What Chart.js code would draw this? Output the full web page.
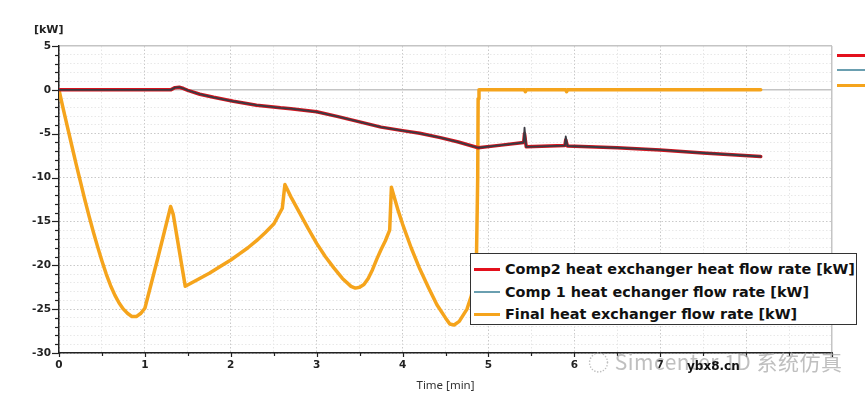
<!DOCTYPE html>
<html>
<head>
<meta charset="utf-8">
<script src="https://cdn.jsdelivr.net/npm/chart.js@4.4.1/dist/chart.umd.min.js"></script>
<style>
  body { margin: 0; background: #fff; }
  #wrap { position: relative; width: 865px; height: 396px; overflow: hidden; }
  #unit { position: absolute; left: 34px; top: 23px; font: bold 11px "DejaVu Sans"; color: #222; }
  #legend { position: absolute; left: 470px; top: 253px; width: 387px; height: 72px; box-sizing: border-box;
            border: 1.5px solid #333; background: #fff; padding-top: 4px; }
  .row { height: 22.5px; display: flex; align-items: center; font: bold 14.4px "DejaVu Sans"; color: #111; white-space: nowrap; }
  .sw { width: 26px; margin: 0 5px 0 3px; }
  .stub { position: absolute; left: 837px; width: 28px; }
  #wm { position: absolute; left: 588px; top: 346px; font: 21px "Noto Sans CJK SC"; color: rgba(170,170,170,0.75); letter-spacing: 0.5px; }
  #site { position: absolute; left: 687px; top: 359px; font: bold 12px "DejaVu Sans"; color: #111; }
</style>
</head>
<body>
<div id="wrap">
  <canvas id="chart" width="865" height="396"></canvas>
  <div id="unit">[kW]</div>
  <div class="stub" style="top:54px;height:3px;background:#e3101c"></div>
  <div class="stub" style="top:69px;height:2px;background:#6a9fb0"></div>
  <div class="stub" style="top:84px;height:3px;background:#f5a41c"></div>
  <div id="legend"></div>
  <div id="wm">◌ Simcenter 1D 系统仿真</div>
  <div id="site">ybx8.cn</div>
</div>
<script>
// Comp2 heat exchanger heat flow rate (red)
const comp2Time = [0, 1.3, 1.35, 1.4, 1.45, 1.5, 1.64, 1.8, 2.03, 2.3, 2.58, 2.7, 3.0, 3.25, 3.5, 3.75, 4.0, 4.2, 4.44, 4.65, 4.88, 5.15, 5.41, 5.42, 5.44, 5.89, 5.9, 5.92, 6.5, 7.0, 7.5, 8.17];
const comp2Vals = [0, 0, 0.25, 0.3, 0.15, -0.05, -0.5, -0.85, -1.3, -1.75, -2.05, -2.15, -2.5, -3.05, -3.65, -4.25, -4.65, -4.95, -5.45, -5.95, -6.6, -6.3, -6.0, -5.0, -6.5, -6.35, -5.7, -6.4, -6.6, -6.85, -7.2, -7.6];

// Comp 1 heat exchanger flow rate (teal, drawn on top)
const comp1Time = [0, 1.3, 1.35, 1.4, 1.45, 1.5, 1.64, 1.8, 2.03, 2.3, 2.58, 2.7, 3.0, 3.25, 3.5, 3.75, 4.0, 4.2, 4.44, 4.65, 4.88, 5.15, 5.41, 5.42, 5.44, 5.89, 5.9, 5.92, 6.5, 7.0, 7.5, 8.17];
const comp1Vals = [0, 0, 0.25, 0.3, 0.15, -0.05, -0.5, -0.85, -1.3, -1.75, -2.05, -2.15, -2.5, -3.05, -3.65, -4.25, -4.65, -4.95, -5.45, -5.95, -6.6, -6.3, -6.0, -4.3, -6.5, -6.35, -5.3, -6.4, -6.6, -6.85, -7.2, -7.6];

// Final heat exchanger flow rate (orange)
const finalTime = [0, 0.05, 0.1, 0.15, 0.2, 0.25, 0.3, 0.35, 0.4, 0.45, 0.5, 0.55, 0.6, 0.65, 0.7, 0.75, 0.8, 0.85, 0.9, 0.95, 1.0, 1.15, 1.3, 1.33, 1.47,
  1.6, 1.75, 1.9, 2.0, 2.1, 2.2, 2.3, 2.4, 2.5, 2.6, 2.63,
  2.7, 2.8, 2.9, 3.0, 3.1, 3.2, 3.3, 3.4, 3.45, 3.5, 3.55, 3.6, 3.65, 3.7, 3.75, 3.8, 3.85, 3.87,
  3.95, 4.0, 4.1, 4.2, 4.3, 4.4, 4.5, 4.55, 4.6, 4.66, 4.75, 4.8, 4.84, 4.86, 4.875, 4.88, 4.89,
  5.42, 5.43, 5.44, 5.9, 5.91, 5.92, 8.17];
const finalVals = [0, -2.2, -4.3, -6.4, -8.5, -10.5, -12.5, -14.4, -16.2, -17.9, -19.5, -21.0, -22.3, -23.4, -24.3, -25.0, -25.5, -25.85, -25.85, -25.5, -24.9, -19.2, -13.3, -14.2, -22.4,
  -21.7, -20.9, -20.0, -19.4, -18.7, -18.0, -17.2, -16.3, -15.3, -13.5, -10.8,
  -12.2, -14.0, -15.8, -17.5, -19.0, -20.3, -21.5, -22.4, -22.6, -22.5, -22.2, -21.5, -20.5, -19.3, -18.2, -17.2, -16.0, -11.1,
  -13.8, -15.3, -18.0, -20.4, -22.5, -24.5, -26.0, -26.7, -26.8, -26.4, -25.0, -23.5, -21.5, -19.5, -10.0, -1.0, 0,
  0, -0.2, 0, 0, -0.2, 0, 0];

const seriesLabels = [
  "Comp2 heat exchanger heat flow rate [kW]",
  "Comp 1 heat echanger flow rate [kW]",
  "Final heat exchanger flow rate [kW]"
];
const legendColors = ["#e3101c", "#6a9fb0", "#f5a41c"];

const xLabels = [0, 1, 2, 3, 4, 5, 6, 7];
const yLabelStep = 5;

const toPoints = (ts, vs) => ts.map((t, i) => ({ x: t, y: vs[i] }));

// HTML legend box inside the plot
const legendEl = document.getElementById("legend");
seriesLabels.forEach((label, i) => {
  const h = i === 1 ? 2 : 3.5;
  legendEl.innerHTML += `<div class="row"><div class="sw" style="height:${h}px;background:${legendColors[i]}"></div>${label}</div>`;
});

// axis tick marks: long on labelled values, short on the rest
const tickMarks = {
  id: "tickMarks",
  afterDraw(chart) {
    const { ctx, chartArea, scales } = chart;
    ctx.save();
    ctx.strokeStyle = "#222";
    ctx.lineWidth = 1.2;
    scales.y.ticks.forEach(t => {
      const py = Math.round(scales.y.getPixelForValue(t.value)) + 0.5;
      const len = t.value % yLabelStep === 0 ? 7 : 4;
      ctx.beginPath();
      ctx.moveTo(chartArea.left - len, py);
      ctx.lineTo(chartArea.left, py);
      ctx.stroke();
    });
    scales.x.ticks.forEach(t => {
      const px = Math.round(scales.x.getPixelForValue(t.value)) + 0.5;
      const len = Number.isInteger(t.value) ? 4 : 3;
      ctx.beginPath();
      ctx.moveTo(px, chartArea.bottom);
      ctx.lineTo(px, chartArea.bottom + len);
      ctx.stroke();
    });
    ctx.restore();
  }
};

new Chart(document.getElementById("chart"), {
  type: "line",
  data: {
    datasets: [
      {
        label: seriesLabels[0],
        data: toPoints(comp2Time, comp2Vals),
        borderColor: "#d8141e",
        borderWidth: 3.5,
        order: 2
      },
      {
        label: seriesLabels[1],
        data: toPoints(comp1Time, comp1Vals),
        borderColor: "#3b3a42",
        borderWidth: 1.8,
        order: 1
      },
      {
        label: seriesLabels[2],
        data: toPoints(finalTime, finalVals),
        borderColor: "#f5a41c",
        borderWidth: 3.5,
        order: 3
      }
    ]
  },
  options: {
    responsive: false,
    animation: false,
    layout: { padding: { top: 46, right: 33, left: 0, bottom: 0 } },
    elements: {
      point: { radius: 0 },
      line: { tension: 0, borderJoinStyle: "round", borderCapStyle: "round" }
    },
    plugins: { legend: { display: false }, tooltip: { enabled: false } },
    scales: {
      x: {
        type: "linear",
        min: 0,
        max: 9,
        afterFit: s => { s.height = 43; },
        ticks: {
          stepSize: 0.5,
          autoSkip: false,
          maxRotation: 0,
          padding: 6,
          color: "#222",
          font: { family: "DejaVu Sans", size: 10.5, weight: "bold" },
          callback: v => xLabels.includes(v) ? String(v) : ""
        },
        grid: {
          drawTicks: false,
          lineWidth: ctx => ctx.tick && ctx.tick.value === 9 ? 1.5 : 1,
          color: ctx => {
            const v = ctx.tick ? ctx.tick.value : 0;
            if (v === 9) return "#c4c4c4";
            return Number.isInteger(v) ? "#c9c9c9" : "#e6e6e6";
          }
        },
        border: {
          color: "#222",
          width: 1.5,
          dash: ctx => ctx.tick && ctx.tick.value === 9 ? [] : [1.5, 2]
        },
        title: {
          display: true,
          text: "Time [min]",
          color: "#333",
          font: { family: "Noto Sans", size: 11.5 },
          padding: { top: 0, bottom: 3 }
        }
      },
      y: {
        min: -30,
        max: 5,
        afterFit: s => { s.width = 59; },
        ticks: {
          stepSize: 1,
          autoSkip: false,
          maxTicksLimit: 100,
          padding: 8,
          color: "#222",
          font: { family: "DejaVu Sans", size: 10.5, weight: "bold" },
          callback: v => v % yLabelStep === 0 ? String(v) : ""
        },
        grid: {
          drawTicks: false,
          lineWidth: ctx => ctx.tick && (ctx.tick.value === 0 || ctx.tick.value === 5) ? 1.5 : 1,
          color: ctx => {
            const v = ctx.tick ? ctx.tick.value : 1;
            if (v === 0 || v === 5) return "#c4c4c4";
            return v % yLabelStep === 0 ? "#c9c9c9" : "#e8e8e8";
          }
        },
        border: {
          color: "#222",
          width: 1.5,
          dash: ctx => ctx.tick && (ctx.tick.value === 0 || ctx.tick.value === 5) ? [] : [1.5, 2]
        }
      }
    }
  },
  plugins: [tickMarks]
});
</script>
</body>
</html>
